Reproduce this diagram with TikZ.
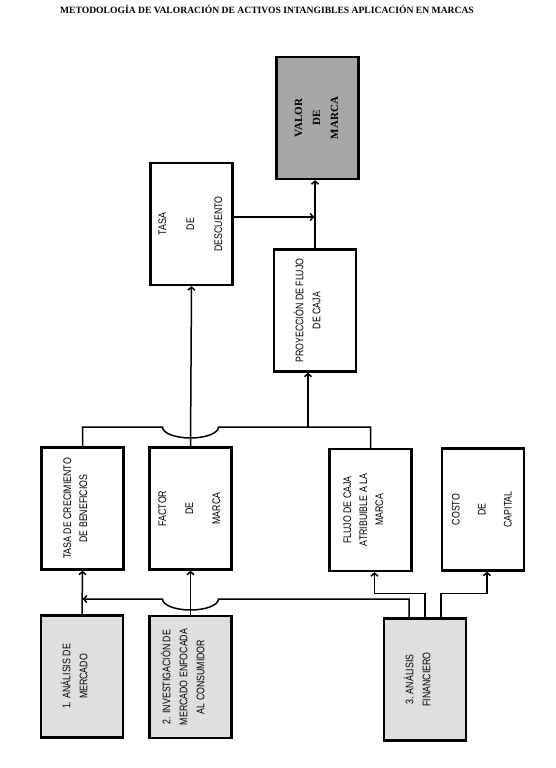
\documentclass[tikz,border=0pt]{standalone}
\usepackage{graphicx}
\usepackage{fontspec}
\setmainfont{Liberation Serif}
\newfontfamily\narrowsans[FakeStretch=0.8]{Liberation Sans}
\usetikzlibrary{arrows.meta}
\newcommand{\vtext}[2][0pt]{\rotatebox{90}{\begin{tabular}{@{}c@{}}#2\end{tabular}}\hspace*{#1}}

\begin{document}
\begin{tikzpicture}[x=1pt,y=-1pt,
  blockbox/.style={draw,line width=2.4pt,minimum width=82pt,minimum height=122pt,inner sep=0pt,
    font=\narrowsans\fontsize{11}{13}\selectfont},
  srcbox/.style={blockbox,fill=gray!25},
  goalbox/.style={blockbox,fill=gray!70,font=\bfseries\fontsize{11}{13}\selectfont},
  link/.style={line width=1.5pt},
  >={Straight Barb[length=3pt,width=7pt]}]
\useasboundingbox (0,0) rectangle (555,768);
\node[font=\bfseries\fontsize{9.6}{12}\selectfont] (title) at (267,9) {METODOLOGÍA DE VALORACIÓN DE ACTIVOS INTANGIBLES APLICACIÓN EN MARCAS};
\node[goalbox] (valor) at (317.5,118) {\vtext{VALOR\\[5pt]DE\\[5pt]MARCA}};
\node[blockbox] (desc) at (191.5,224) {\vtext{TASA\\[15pt]DE\\[15pt]DESCUENTO}};
\node[blockbox] (proy) at (315,310.5) {\vtext[12pt]{PROYECCIÓN DE FLUJO\\[4pt]DE CAJA}};
\node[blockbox] (crec) at (82.5,508.5) {\vtext[12pt]{TASA DE CRECIMIENTO\\[3pt]DE BENEFICIOS}};
\node[blockbox] (factor) at (190.5,508.5) {\vtext{FACTOR\\[14pt]DE\\[14pt]MARCA}};
\node[blockbox] (flujo) at (370.5,510) {\vtext[12pt]{FLUJO DE CAJA\\[3pt]ATRIBUIBLE A LA\\[3pt]MARCA}};
\node[blockbox] (costo) at (483,509.5) {\vtext{COSTO\\[13pt]DE\\[13pt]CAPITAL}};
\node[srcbox] (merc) at (82,676.5) {\vtext[12pt]{1. ANÁLISIS DE\\[4pt]MERCADO}};
\node[srcbox] (inv) at (190.5,677) {\vtext[12pt]{2. INVESTIGACIÓN DE\\[4pt]MERCADO ENFOCADA\\[4pt]AL CONSUMIDOR}};
\node[srcbox] (fin) at (425,679.5) {\vtext[12pt]{3. ANÁLISIS\\[4pt]FINANCIERO}};
\coordinate (tbus) at (0,427);
\coordinate (bbus) at (0,599);
\draw[link,->] (proy.north) -- (proy.north |- valor.south);
\draw[link,->,shorten >=0.8pt] ([yshift=7pt]desc.east) -- ([yshift=7pt]desc.east -| proy.north);
\draw[link,->] (factor.north) -- (desc.south);
\draw[link] (crec.north) |- ([xshift=-28pt]factor.north |- tbus)
  arc[start angle=180,end angle=0,x radius=28,y radius=11] -- (flujo.north |- tbus) -- (flujo.north);
\draw[link,->] ([xshift=-7pt]proy.south |- tbus) -- ([xshift=-7pt]proy.south);
\draw[link,->] (merc.north) -- (crec.south);
\draw[link,->] (inv.north) -- (factor.south);
\draw[link,->,shorten >=0.8pt] ([xshift=-16pt]fin.north) |- ([xshift=28pt]inv.north |- bbus)
  arc[start angle=0,end angle=180,x radius=28,y radius=11] -- (merc.north |- bbus);
\draw[link,->] (fin.north) -- ++(0,-24) -| ([xshift=4pt]flujo.south);
\draw[link,->] ([xshift=16pt]fin.north) -- ++(0,-24) -| ([xshift=4pt]costo.south);
\end{tikzpicture}
\end{document}
